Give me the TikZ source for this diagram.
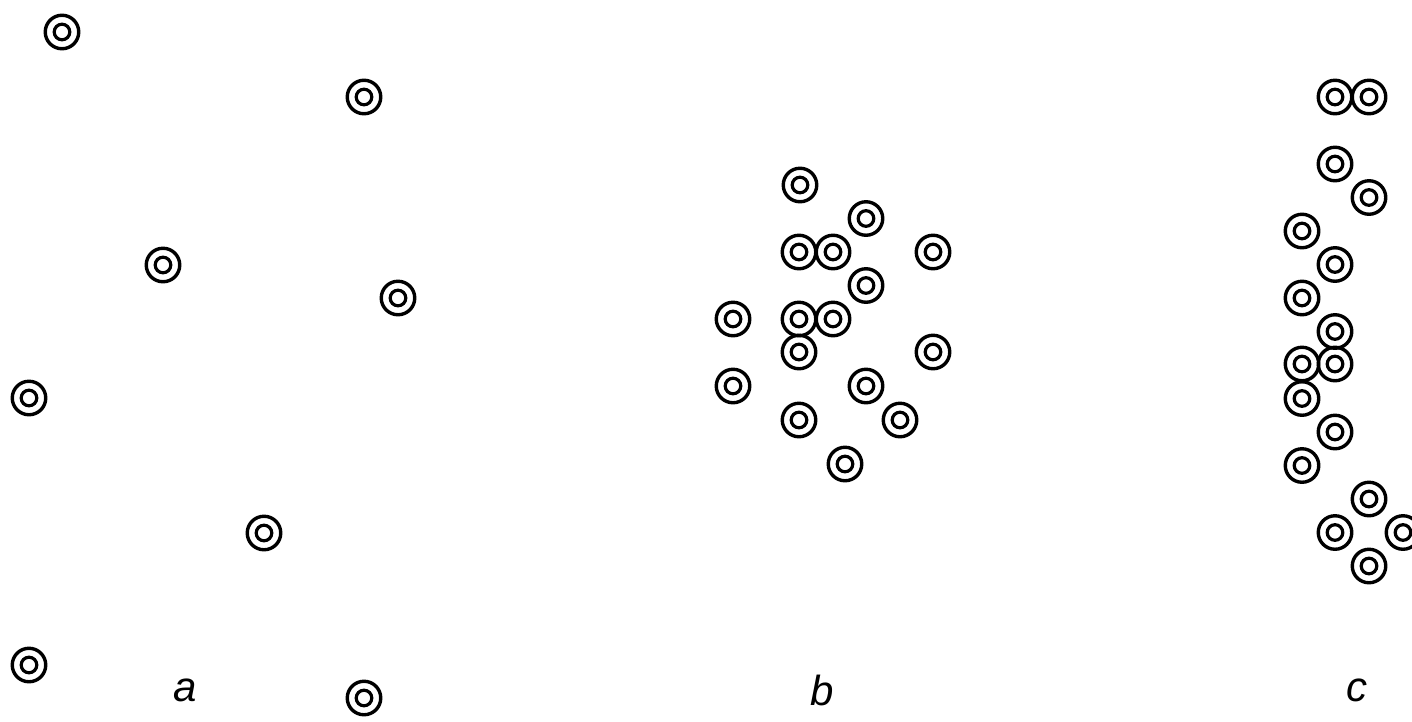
\documentclass[tikz,border=0pt]{standalone}
\usepackage{fontspec}
\setmainfont{Liberation Sans}
\begin{document}
\begin{tikzpicture}[x=1pt,y=-1pt,
  ring/.style={circle,draw,line width=3.4pt,minimum size=33.5pt,inner sep=0pt,
    path picture={\draw[line width=3.2pt] (path picture bounding box.center) circle (7.8pt);}},
  lab/.style={font=\fontsize{42}{42}\selectfont\itshape,inner sep=0pt}]
\useasboundingbox (0,0) rectangle (1412,721);
% panel a
\node[ring] (a1) at (62,32) {};
\node[ring] (a2) at (364,97) {};
\node[ring] (a3) at (163,265) {};
\node[ring] (a4) at (398,298) {};
\node[ring] (a5) at (29,398) {};
\node[ring] (a6) at (264,533) {};
\node[ring] (a7) at (29,665) {};
\node[ring] (a8) at (364,698) {};
\node[lab] (la) at (185,690) {a};
% panel b
\node[ring] (b1) at (800,185) {};
\node[ring] (b2) at (866,218.5) {};
\node[ring] (b3) at (799,252) {};
\node[ring] (b4) at (833,252) {};
\node[ring] (b5) at (933,252) {};
\node[ring] (b6) at (866,285.5) {};
\node[ring] (b7) at (733,319) {};
\node[ring] (b8) at (799,319) {};
\node[ring] (b9) at (833,319) {};
\node[ring] (b10) at (799,352) {};
\node[ring] (b11) at (933,352) {};
\node[ring] (b12) at (733,386) {};
\node[ring] (b13) at (866,386) {};
\node[ring] (b14) at (799,420) {};
\node[ring] (b15) at (900,420) {};
\node[ring] (b16) at (845,464) {};
\node[lab] (lb) at (822,690) {b};
% panel c
\node[ring] (c1) at (1335,97) {};
\node[ring] (c2) at (1369,97) {};
\node[ring] (c3) at (1335,164) {};
\node[ring] (c4) at (1369,197.5) {};
\node[ring] (c5) at (1302,231) {};
\node[ring] (c6) at (1335,264.5) {};
\node[ring] (c7) at (1302,298) {};
\node[ring] (c8) at (1335,331.5) {};
\node[ring] (c9) at (1302,364) {};
\node[ring] (c10) at (1335,364) {};
\node[ring] (c11) at (1302,398.5) {};
\node[ring] (c12) at (1335,432) {};
\node[ring] (c13) at (1302,465.5) {};
\node[ring] (c14) at (1369,499) {};
\node[ring] (c15) at (1335,532.5) {};
\node[ring] (c16) at (1403,532.5) {};
\node[ring] (c17) at (1369,566) {};
\node[lab] (lc) at (1357,690) {c};
\end{tikzpicture}
\end{document}
